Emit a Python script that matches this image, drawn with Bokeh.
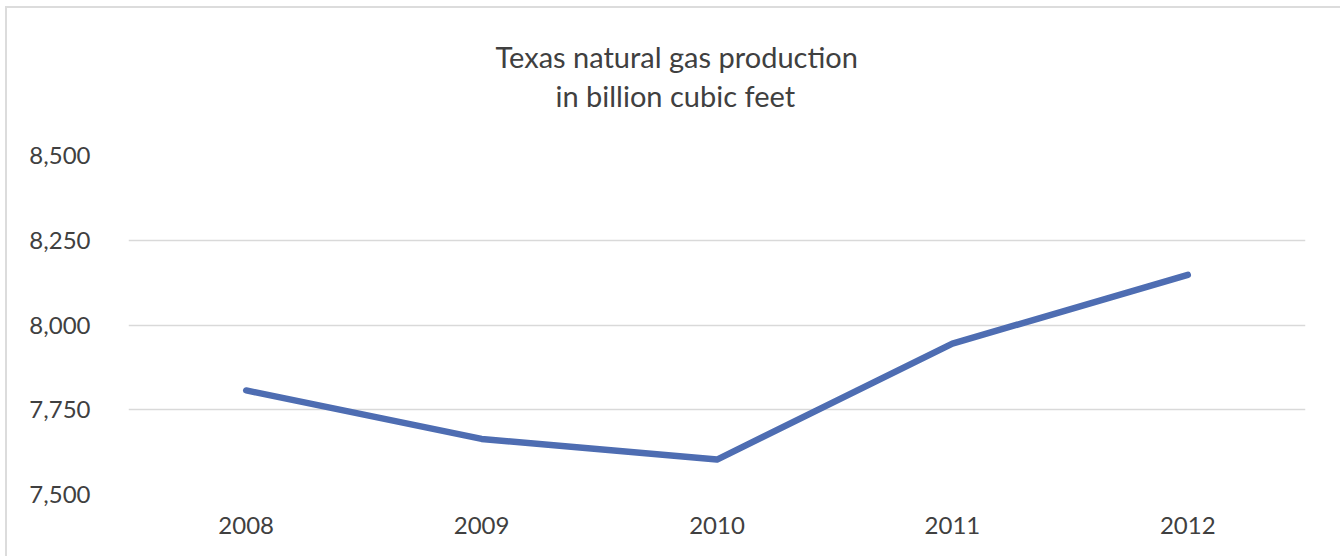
from bokeh.plotting import figure
from bokeh.models import NumeralTickFormatter, FixedTicker, Range1d, FactorRange, Title
from bokeh.embed import file_html
from bokeh.resources import INLINE

years = ["2008", "2009", "2010", "2011", "2012"]
production = [7807, 7664, 7603, 7945, 8148]
y_ticks = [7500, 7750, 8000, 8250, 8500]
title_lines = ["Texas natural gas production", "in billion cubic feet"]

FONT = "Lato"
TEXT = "#404040"

p = figure(width=1335, height=550, x_range=FactorRange(factors=years),
           y_range=Range1d(7500, 8500), output_backend="svg",
           toolbar_location=None, min_border_left=121, min_border_right=37,
           min_border_top=147, min_border_bottom=64)
p.styles = {"margin-left": "5px", "margin-top": "6px",
            "border-left": "2px solid #dcdcdc", "border-top": "2px solid #dcdcdc"}
p.outline_line_color = None
p.background_fill_color = "white"
p.border_fill_color = "white"

# spacer between frame and title block
p.add_layout(Title(text=" ", standoff=40, text_font_size="1px"), "above")
# title lines: second line nearest the frame, added first
p.add_layout(Title(text=title_lines[1], align="left", offset=427, standoff=0,
                   text_font=FONT, text_font_size="29px", text_font_style="normal",
                   text_color=TEXT), "above")
p.add_layout(Title(text=title_lines[0], align="left", offset=367, standoff=4,
                   text_font=FONT, text_font_size="29px", text_font_style="normal",
                   text_color=TEXT), "above")

p.line(x=years, y=production, line_color="#4e6db2", line_width=6.5,
       line_cap="round", line_join="round")

p.yaxis.ticker = FixedTicker(ticks=y_ticks)
p.yaxis.formatter = NumeralTickFormatter(format="0,0")
for ax in (p.xaxis[0], p.yaxis[0]):
    ax.axis_line_color = None
    ax.major_tick_line_color = None
    ax.minor_tick_line_color = None
    ax.major_label_text_font = FONT
    ax.major_label_text_font_size = "24px"
    ax.major_label_text_color = TEXT
p.yaxis.major_label_standoff = 32
p.xaxis.major_label_standoff = 16

p.xgrid.grid_line_color = None
p.ygrid.grid_line_color = "#d9d9d9"
p.ygrid.grid_line_width = 1.5

open("out.html", "w").write(file_html(p, INLINE))
